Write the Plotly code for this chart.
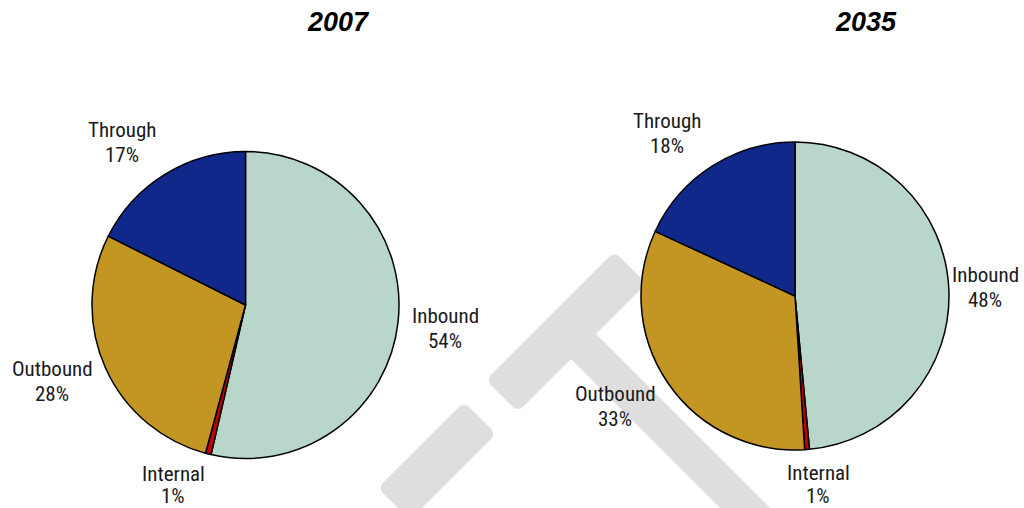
import math
import plotly.graph_objects as go

# ---------------- data ----------------
categories = ["Inbound", "Internal", "Outbound", "Through"]
years = ["2007", "2035"]
values_2007 = [53.6, 0.6, 28.2, 17.6]
values_2035 = [48.5, 0.5, 32.9, 18.1]
pct_labels_2007 = [54, 1, 28, 17]
pct_labels_2035 = [48, 1, 33, 18]
colors = ["#B9D6CB", "#C00000", "#C39624", "#10288A"]

W, H = 1024, 508


def px(x, y):
    return x / W, 1 - y / H


fig = go.Figure()

pie_geom = [
    # (center x, center y, radius) in window pixels
    (245.5, 305.0, 153.5),
    (795.0, 296.0, 154.0),
]
for (cx, cy, r), vals in zip(pie_geom, [values_2007, values_2035]):
    x0, y1 = px(cx - r, cy - r)
    x1, y0 = px(cx + r, cy + r)
    fig.add_trace(go.Pie(
        labels=categories,
        values=vals,
        sort=False,
        direction="clockwise",
        rotation=0,
        textinfo="none",
        hoverinfo="label+percent",
        marker=dict(colors=colors, line=dict(color="black", width=1.5)),
        domain=dict(x=[x0, x1], y=[y0, y1]),
        showlegend=False,
    ))

# ---------------- labels ----------------
label_font = dict(family="Roboto Condensed, Roboto, sans-serif", size=21, color="#1a1a1a")
label_pos = [
    [(445, 316, 341), (173, 474, 496), (52, 369, 394), (122, 130, 155)],
    [(985, 275, 300), (818, 473, 496), (615, 394, 419), (667, 121, 146)],
]
annotations = []
for pie_i, pcts in enumerate([pct_labels_2007, pct_labels_2035]):
    for cat, pct, (x, y1, y2) in zip(categories, pcts, label_pos[pie_i]):
        for txt, yy in [(cat, y1), (f"{pct}%", y2)]:
            ax, ay = px(x, yy)
            annotations.append(dict(
                text=txt, x=ax, y=ay, xref="paper", yref="paper",
                xanchor="center", yanchor="middle", showarrow=False,
                font=label_font))

title_pos = [(338, 22), (866, 22)]
for yr, (x, y) in zip(years, title_pos):
    ax, ay = px(x, y)
    annotations.append(dict(
        text=f"<b><i>{yr}</i></b>", x=ax, y=ay, xref="paper", yref="paper",
        xanchor="center", yanchor="middle", showarrow=False,
        font=dict(family="Liberation Sans, Arial, sans-serif", size=27, color="black")))


# ---------------- watermark (background decoration) ----------------
def rounded_band(s0, s1, d0, d1, r):
    """Rounded rectangle in rotated coords s=x+y, d=x-y (window pixels)."""
    rr = r * math.sqrt(2)
    pts = []
    corners = [(s0 + rr, d0 + rr, 180, 270), (s1 - rr, d0 + rr, 270, 360),
               (s1 - rr, d1 - rr, 0, 90), (s0 + rr, d1 - rr, 90, 180)]
    for cs, cd, a0, a1 in corners:
        for k in range(7):
            a = math.radians(a0 + (a1 - a0) * k / 6)
            pts.append((cs + rr * math.cos(a), cd + rr * math.sin(a)))
    path = ""
    for i, (s, d) in enumerate(pts):
        x, y = (s + d) / 2, (s - d) / 2
        X, Y = px(x, y)
        path += ("M" if i == 0 else "L") + f"{X:.5f},{Y:.5f} "
    return path + "Z"


wm_color = "#DEDEDE"
shapes = []
for band in [(866, 930, 106, 363, 7), (866, 930, -110, 62, 7), (910, 1330, 212, 262, 2)]:
    shapes.append(dict(type="path", path=rounded_band(*band), xref="paper", yref="paper",
                       fillcolor=wm_color, line=dict(width=0), layer="below"))

fig.update_layout(
    width=W, height=H,
    margin=dict(l=0, r=0, t=0, b=0),
    paper_bgcolor="white", plot_bgcolor="white",
    annotations=annotations,
    shapes=shapes,
    showlegend=False,
)

fig.write_html("out.html",
               config={"displayModeBar": False},
               post_script="document.body.style.margin='0';document.body.style.overflow='hidden';")
